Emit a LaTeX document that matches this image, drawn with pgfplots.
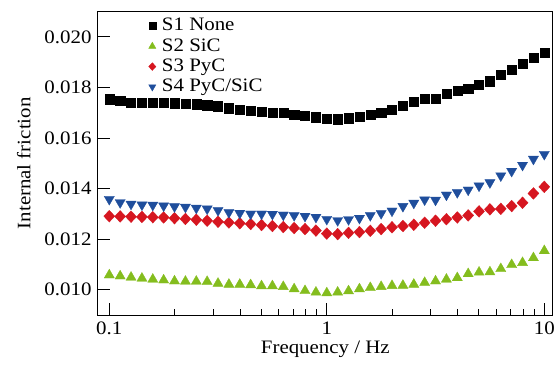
\documentclass[border=0pt]{standalone}
\usepackage{pgfplots}
\pgfplotsset{compat=1.18}
\usepackage{pgfplotstable}
\usepackage{fontspec}
\setmainfont{Liberation Serif}[FakeStretch=1.1]
\definecolor{cGreen}{RGB}{132,189,30}
\definecolor{cRed}{RGB}{214,22,32}
\definecolor{cBlue}{RGB}{31,78,156}
\pgfplotstableread{
f S1 S2 S3 S4
0.1000 0.01754 0.01058 0.01291 0.01358
0.1122 0.01747 0.01054 0.01290 0.01345
0.1259 0.01741 0.01049 0.01289 0.01339
0.1413 0.01739 0.01045 0.01288 0.01336
0.1585 0.01739 0.01041 0.01287 0.01335
0.1778 0.01739 0.01038 0.01286 0.01332
0.1995 0.01738 0.01034 0.01283 0.01329
0.2239 0.01737 0.01033 0.01280 0.01327
0.2512 0.01734 0.01033 0.01277 0.01323
0.2818 0.01730 0.01032 0.01273 0.01320
0.3162 0.01726 0.01025 0.01269 0.01314
0.3548 0.01718 0.01021 0.01266 0.01306
0.3981 0.01713 0.01021 0.01263 0.01303
0.4467 0.01708 0.01019 0.01260 0.01300
0.5012 0.01704 0.01015 0.01256 0.01300
0.5623 0.01701 0.01015 0.01252 0.01299
0.6310 0.01700 0.01012 0.01248 0.01296
0.7079 0.01694 0.01003 0.01244 0.01294
0.7943 0.01689 0.00996 0.01240 0.01291
0.8913 0.01683 0.00990 0.01234 0.01287
1.0000 0.01676 0.00987 0.01222 0.01279
1.1220 0.01675 0.00990 0.01220 0.01274
1.2590 0.01679 0.00995 0.01225 0.01278
1.4130 0.01684 0.01003 0.01228 0.01283
1.5850 0.01693 0.01008 0.01233 0.01294
1.7780 0.01702 0.01012 0.01240 0.01302
1.9950 0.01711 0.01016 0.01247 0.01312
2.2390 0.01727 0.01017 0.01252 0.01330
2.5120 0.01743 0.01021 0.01257 0.01343
2.8180 0.01755 0.01028 0.01265 0.01356
3.1620 0.01757 0.01034 0.01273 0.01355
3.5480 0.01775 0.01041 0.01279 0.01375
3.9810 0.01787 0.01047 0.01286 0.01385
4.4670 0.01797 0.01063 0.01294 0.01395
5.0120 0.01812 0.01069 0.01310 0.01411
5.6230 0.01825 0.01070 0.01318 0.01424
6.3100 0.01850 0.01083 0.01320 0.01451
7.0790 0.01871 0.01099 0.01331 0.01469
7.9430 0.01895 0.01107 0.01344 0.01493
8.9130 0.01919 0.01126 0.01381 0.01517
10.000 0.01938 0.01154 0.01407 0.01536
}\datatable
\begin{document}
\begin{tikzpicture}
\useasboundingbox (-98bp,-50bp) rectangle (462bp,315bp);
\begin{axis}[
  at={(0,0)}, anchor=south west,
  scale only axis, width=454.7bp, height=303.3bp,
  xmode=log, log basis x=10,
  xmin=0.08874, xmax=10.93, ymin=0.009, ymax=0.021,
  xtick={0.1,1,10}, xticklabels={0.1,1,10},
  minor xtick={0.2,0.3,0.4,0.5,0.6,0.7,0.8,0.9,2,3,4,5,6,7,8,9},
  ytick={0.010,0.012,0.014,0.016,0.018,0.020},
  scaled y ticks=false,
  /pgf/number format/fixed,
  /pgf/number format/fixed zerofill,
  /pgf/number format/precision=3,
  /pgf/number format/assume math mode=true,
  xtick pos=bottom, ytick pos=left,
  tick align=inside,
  major tick length=12bp, minor tick length=6bp,
  axis line style={line width=1bp, black},
  every tick/.style={line width=1bp, black},
  tick label style={font=\fontsize{19bp}{22bp}\selectfont},
  yticklabel style={anchor=east, inner sep=0pt, xshift=-6.3bp},
  xticklabel style={anchor=north, inner sep=0pt, yshift=-7bp},
  xlabel={Frequency / Hz},
  ylabel={Internal friction},
  label style={font=\fontsize{19bp}{22bp}\selectfont},
  xlabel style={at={(axis description cs:0.5,-0.1263)}, anchor=base},
  ylabel style={at={(axis description cs:-0.1485,0.5)}, anchor=base},
  legend style={at={(axis description cs:0.111,0.987)}, anchor=north west, inner sep=0pt,
    draw=none, fill=none, row sep=0pt,
    /tikz/every odd column/.style={column sep=3bp},
    font=\fontsize{19bp}{22bp}\selectfont,
    nodes={inner xsep=3bp, inner ysep=1.4bp, text height=13.5bp, text depth=4bp}},
  legend cell align=left,
]
\addplot[only marks, mark=square*, mark size=4.6bp, mark options={draw=black, fill=black, line width=0.3bp},
  legend image post style={mark size=3.4bp}] table[x=f, y=S1] {\datatable};
\addlegendentry{S1 None}
\addplot[only marks, mark=triangle*, mark size=5.9bp, mark options={draw=cGreen, fill=cGreen, line width=0.3bp},
  legend image post style={mark size=4.2bp}] table[x=f, y=S2] {\datatable};
\addlegendentry{S2 SiC}
\addplot[only marks, mark=diamond*, mark size=5.9bp, mark options={draw=cRed, fill=cRed, xscale=1.25, line width=0.3bp},
  legend image post style={mark size=3.9bp}] table[x=f, y=S3] {\datatable};
\addlegendentry{S3 PyC}
\addplot[only marks, mark=triangle*, mark size=5.9bp, mark options={draw=cBlue, fill=cBlue, rotate=180, line width=0.3bp},
  legend image post style={mark size=4.2bp}] table[x=f, y=S4] {\datatable};
\addlegendentry{S4 PyC/SiC}
\end{axis}
\end{tikzpicture}
\end{document}
